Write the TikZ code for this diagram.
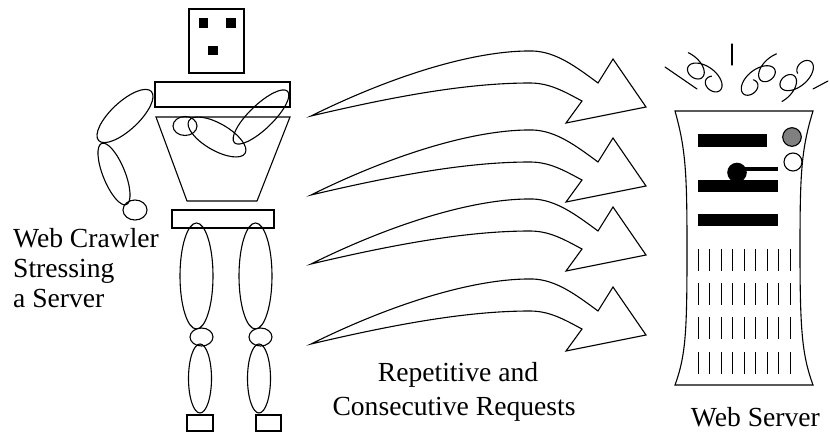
\documentclass[tikz,border=0pt]{standalone}
\usepackage{fontspec}
\setmainfont{Liberation Serif}
\begin{document}
\begin{tikzpicture}[x=1pt, y=-1pt,
  outline/.style={draw=black, line width=1.1pt},
  curl/.style={draw=black, line width=1.1pt, line cap=round},
  slot/.style={draw=black, line width=1pt},
  label text/.style={font=\fontsize{27.6}{30}\selectfont, inner sep=0pt}]
\useasboundingbox (0,0) rectangle (830,435);

% ---------- robot: head ----------
\draw[outline] (189,9) rectangle (244,73);
\fill (199,18) rectangle (208,28);
\fill (226,18) rectangle (236,28);
\fill (208,46) rectangle (218,55);

% ---------- robot: shoulders and torso ----------
\draw[outline] (155,82) rectangle (290,107);
\draw[outline] (156,117) -- (290,117) -- (257,201) -- (187,201) -- cycle;
\draw[outline] (185,126) ellipse [x radius=12, y radius=9.5];
\draw[outline, rotate around={-30:(217,137)}] (217,137) ellipse [x radius=32.5, y radius=13.4];
\draw[outline, rotate around={44:(261,117)}] (261,117) ellipse [x radius=37, y radius=12];

% ---------- robot: left arm ----------
\draw[outline, rotate around={43:(125,116)}] (125,116) ellipse [x radius=36, y radius=14];
\draw[outline, rotate around={-68:(114,174)}] (114,174) ellipse [x radius=33, y radius=11];
\draw[outline] (135,210) ellipse [x radius=12, y radius=10];

% ---------- robot: hips and legs ----------
\draw[outline] (172,210) rectangle (274,228);
\foreach \lx in {196.5,255.5} {
  \draw[outline] (\lx,276) ellipse [x radius=16.5, y radius=53];
  \draw[outline] (\lx+5,337) ellipse [x radius=11.5, y radius=9];
  \draw[outline] (\lx+3.5,378.5) ellipse [x radius=11.5, y radius=34.5];
}
\draw[outline] (187,415) rectangle (213,431);
\draw[outline] (256,415) rectangle (281,431);

% ---------- block arrows (requests) ----------
\foreach \dy in {0,79,148,228} {
  \begin{scope}[shift={(0,\dy)}]
    \draw[outline, line join=miter]
      (311,116) .. controls (400,72) and (480,50) .. (533,51)
      .. controls (556,52) and (575,66) .. (598,83)
      -- (613,59) -- (646,107) -- (566,123) -- (582,101)
      .. controls (565,92) and (550,83) .. (530,83)
      .. controls (470,83) and (400,95) .. cycle;
  \end{scope}
}

% ---------- server cabinet ----------
\draw[outline] (675,111) -- (813,111)
  .. controls (801,150) and (800,175) .. (800,250)
  .. controls (800,330) and (802,355) .. (813,385)
  -- (675,385)
  .. controls (686,355) and (687,330) .. (687,250)
  .. controls (687,175) and (686,150) .. cycle;
\fill (698,134) rectangle (767,147);
\fill (698,180) rectangle (778,192);
\fill (743,167) rectangle (778,171);
\fill (737,172.5) circle [radius=9.8];
\fill (698,214) rectangle (778,226);
\draw[outline, fill=black!50] (792,137) circle [radius=9.3];
\draw[outline] (793,162) circle [radius=9];
\foreach \ry in {249,283,317,352} {
  \foreach \i in {0,...,8} {
    \draw[slot] (698+11.5*\i,\ry) -- (698+11.5*\i,\ry+22);
  }
}

% ---------- stress marks above the server ----------
\draw[curl] (665,67) -- (697,89);
\draw[curl] (732,44) -- (732,65);
\draw[curl] (813,89) -- (828,81);
% looped scribbles: prolate trochoids, two loops each
\begin{scope}[shift={(706,76)}, rotate=-36]
  \draw[curl] plot[smooth, domain=-200:470, samples=120]
    ({22*\x/360 - 14*sin(\x) - 11}, {9*cos(\x)});
\end{scope}
\begin{scope}[shift={(757,79)}, rotate=38]
  \draw[curl] plot[smooth, domain=-100:570, samples=120]
    ({22*\x/360 - 14*sin(\x) - 11}, {9*cos(\x)});
\end{scope}
\begin{scope}[shift={(798,77)}, rotate=40]
  \draw[curl] plot[smooth, domain=-200:430, samples=120]
    ({22*\x/360 - 14*sin(\x) - 11}, {-9*cos(\x)});
\end{scope}

% ---------- labels ----------
\node[label text, anchor=base west] (crawlerA) at (13,248) {Web Crawler};
\node[label text, anchor=base west] (crawlerB) at (13,278) {Stressing};
\node[label text, anchor=base west] (crawlerC) at (13,308) {a Server};
\node[label text, anchor=base] (reqA) at (458,382) {Repetitive and};
\node[label text, anchor=base] (reqB) at (454,416) {Consecutive Requests};
\node[label text, anchor=base east] (server) at (820,426) {Web Server};
\end{tikzpicture}
\end{document}
